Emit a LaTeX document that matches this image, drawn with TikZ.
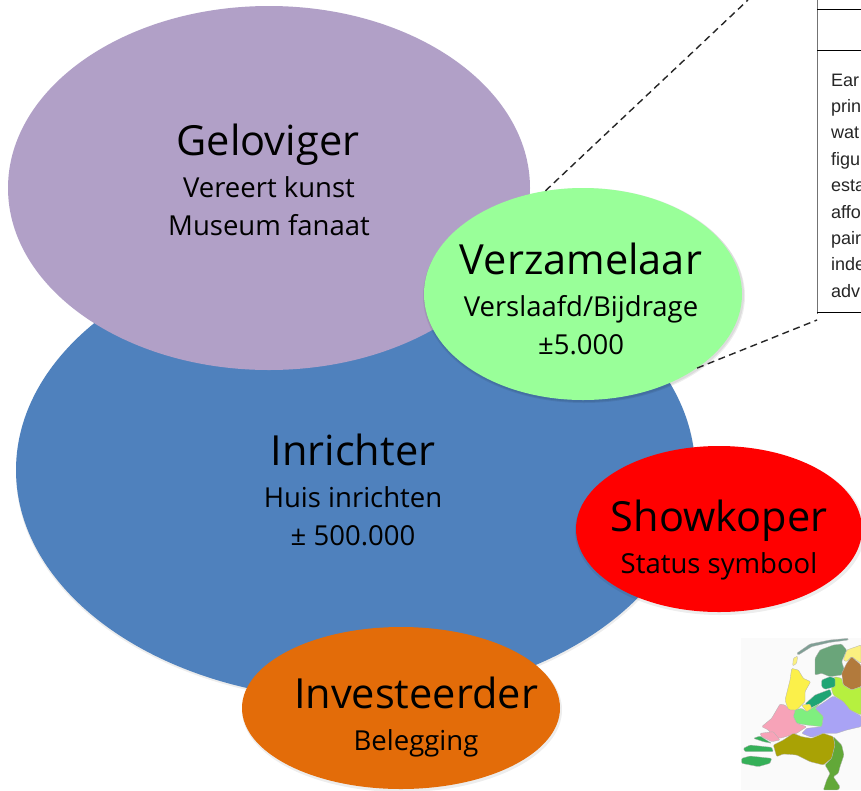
\documentclass[tikz,border=0pt]{standalone}
\usepackage{fontspec}
\setmainfont{Open Sans}
\newfontfamily\tablefont{Liberation Sans}
\usetikzlibrary{shapes.geometric}
\definecolor{purplefill}{HTML}{B1A0C7}
\definecolor{bluefill}{HTML}{4F81BD}
\definecolor{greenfill}{HTML}{99FF99}
\definecolor{redfill}{HTML}{FF0000}
\definecolor{orangefill}{HTML}{E36C09}
\definecolor{mWadden}{HTML}{7F9F95}
\definecolor{mPaleYellow}{HTML}{FBF080}
\definecolor{mFriesland}{HTML}{6AA57A}
\definecolor{mBrown}{HTML}{B27A3C}
\definecolor{mYellow}{HTML}{FBF04A}
\definecolor{mLime}{HTML}{B6F03F}
\definecolor{mTeal}{HTML}{1FA574}
\definecolor{mPeri}{HTML}{A9A3F5}
\definecolor{mLight}{HTML}{7FEF7F}
\definecolor{mPink}{HTML}{F7A3B8}
\definecolor{mSea}{HTML}{35B058}
\definecolor{mOlive}{HTML}{A9A205}
\definecolor{mLimburg}{HTML}{62A838}
\tikzset{
  blob/.style={ellipse,inner sep=0pt,minimum width=2*#1},
  softshadow/.style={fill=black,opacity=0.07},
  title/.style={font=\fontsize{41.5}{42}\selectfont,anchor=base,inner sep=0pt},
  sub/.style={font=\fontsize{27.5}{28}\selectfont,anchor=base,inner sep=0pt},
  tbl/.style={font=\tablefont\fontsize{18}{19}\selectfont,anchor=base west,inner sep=0pt,text=black!85},
  leader/.style={draw=black!85,dash pattern=on 7pt off 4.5pt,line width=1.4pt},
  region/.style={draw=black!30,line width=0.3pt,line join=round,rounded corners=1pt},
}
\begin{document}
\begin{tikzpicture}[x=1pt,y=-1pt]
\useasboundingbox (0,0) rectangle (861,790);
\clip (0,0) rectangle (861,790);
\fill[white] (0,0) rectangle (861,790);

% table fragment
\fill[black!55] (817,0) rectangle (818.3,314);
\draw[black,line width=0.8pt] (817,9) -- (861,9);
\draw[black,line width=0.8pt] (817,50) -- (861,50);
\draw[black,line width=1pt] (817,312.5) -- (861,312.5);
\foreach \t/\y in {Ear/86,prin/112.4,wat/138.8,figu/165.2,esta/191.6,affo/218,pair/244.4,inde/270.8,adv/297}{
  \node[tbl] at (831,\y) {\t};
}
\coordinate (leaderTopEnd) at (748,0);
\coordinate (leaderBottomEnd) at (817,320);

% map
\begin{scope}[shift={(730,630)},x=0.3333pt,y=-0.3333pt]
\fill[black!2] (33,25) rectangle (393,480);
\filldraw[region,fill=mWadden] (200,70) -- (240,42) -- (300,30) -- (355,25) -- (355,30) -- (300,37) -- (245,50) -- (205,75) -- cycle;
\filldraw[region,fill=mPaleYellow] (190,85) -- (203,78) -- (200,100) -- (188,108) -- cycle;
\filldraw[region,fill=mPaleYellow] (340,90) -- (350,60) -- (393,45) -- (393,100) -- (365,80) -- (350,95) -- cycle;
\filldraw[region,fill=mFriesland] (255,85) -- (270,60) -- (310,45) -- (335,42) -- (350,60) -- (335,95) -- (345,125) -- (335,135) -- (300,140) -- (275,130) -- (255,135) -- cycle;
\filldraw[region,fill=mBrown] (335,130) -- (350,100) -- (365,80) -- (393,105) -- (393,170) -- (365,180) -- (340,165) -- cycle;
\filldraw[region,fill=mYellow] (185,115) -- (205,120) -- (220,145) -- (242,155) -- (225,185) -- (225,215) -- (200,240) -- (175,240) -- (165,210) -- (180,150) -- cycle;
\filldraw[region,fill=mLime] (305,155) -- (315,140) -- (335,145) -- (340,165) -- (365,180) -- (393,170) -- (393,255) -- (360,240) -- (340,215) -- (310,195) -- (305,180) -- cycle;
\filldraw[region,fill=mTeal] (275,150) -- (300,140) -- (315,145) -- (315,170) -- (285,178) -- (275,170) -- cycle;
\filldraw[region,fill=mTeal] (225,222) -- (255,195) -- (300,178) -- (305,195) -- (270,220) -- (240,235) -- cycle;
\filldraw[region,fill=mPeri] (255,235) -- (310,198) -- (340,215) -- (360,240) -- (393,258) -- (393,290) -- (350,300) -- (320,310) -- (280,310) -- (245,322) -- (215,310) -- (230,295) -- (275,290) -- (280,260) -- cycle;
\filldraw[region,fill=mLight] (195,240) -- (215,235) -- (230,245) -- (245,235) -- (270,220) -- (255,235) -- (280,260) -- (275,290) -- (230,285) -- (200,280) -- (190,260) -- cycle;
\filldraw[region,fill=mYellow] (215,225) -- (240,222) -- (245,235) -- (230,245) -- cycle;
\filldraw[region,fill=mPink] (150,222) -- (165,225) -- (178,240) -- (195,240) -- (190,260) -- (200,280) -- (230,290) -- (200,310) -- (150,325) -- (130,320) -- (115,300) -- (95,290) -- (125,265) -- cycle;
\filldraw[region,fill=mPink] (90,310) -- (130,305) -- (150,330) -- (125,335) -- (95,320) -- cycle;
\filldraw[region,fill=mSea] (70,325) -- (90,318) -- (125,340) -- (100,335) -- cycle;
\filldraw[region,fill=mSea] (40,355) -- (60,345) -- (125,352) -- (130,365) -- (85,365) -- (45,365) -- cycle;
\filldraw[region,fill=mSea] (35,385) -- (60,378) -- (125,385) -- (120,400) -- (85,410) -- (35,400) -- cycle;
\filldraw[region,fill=mOlive] (130,345) -- (160,330) -- (190,310) -- (215,320) -- (245,325) -- (280,310) -- (310,320) -- (315,345) -- (305,385) -- (280,405) -- (240,395) -- (200,375) -- (160,372) -- (140,380) -- cycle;
\filldraw[region,fill=mLimburg] (310,320) -- (335,345) -- (342,375) -- (330,410) -- (325,430) -- (310,440) -- (330,470) -- (325,480) -- (280,480) -- (290,450) -- (300,430) -- (285,405) -- (305,385) -- (315,345) -- cycle;
\end{scope}

% ellipses
\fill[softshadow] (356,473) ellipse [x radius=340,y radius=229];
\node[blob=339.5pt,minimum height=460pt,fill=bluefill] (inrichter) at (355.5,470) {};
\node[blob=261pt,minimum height=364pt,fill=purplefill] (geloviger) at (269,188) {};
\fill[softshadow] (584,296) ellipse [x radius=161,y radius=107];
\fill[softshadow] (584,295) ellipse [x radius=160,y radius=107];
\node[blob=159pt,minimum height=212pt,fill=greenfill] (verzamelaar) at (583,294) {};
\draw[leader] (verzamelaar.110) -- (leaderTopEnd);
\draw[leader] (verzamelaar.-33) -- (leaderBottomEnd);
\fill[softshadow] (720,531) ellipse [x radius=145,y radius=84];
\node[blob=143pt,minimum height=166pt,fill=redfill] (showkoper) at (719,529) {};
\fill[softshadow] (402,710) ellipse [x radius=160,y radius=82];
\node[blob=159pt,minimum height=162pt,fill=orangefill] (investeerder) at (401,708) {};

% labels
\node[title] (t1) at (268,155) {Geloviger};
\node[sub] (s1a) at (269,197) {Vereert kunst};
\node[sub] (s1b) at (269,235) {Museum fanaat};
\node[title] (t2) at (581,274) {Verzamelaar};
\node[sub] (s2a) at (581,316) {Verslaafd/Bijdrage};
\node[sub] (s2b) at (581,354) {±5.000};
\node[title] (t3) at (353,465) {Inrichter};
\node[sub] (s3a) at (353,507) {Huis inrichten};
\node[sub] (s3b) at (353,545) {± 500.000};
\node[title] (t4) at (719,531) {Showkoper};
\node[sub] (s4a) at (719,573) {Status symbool};
\node[title] (t5) at (416,708) {Investeerder};
\node[sub] (s5a) at (416,750) {Belegging};
\end{tikzpicture}
\end{document}
